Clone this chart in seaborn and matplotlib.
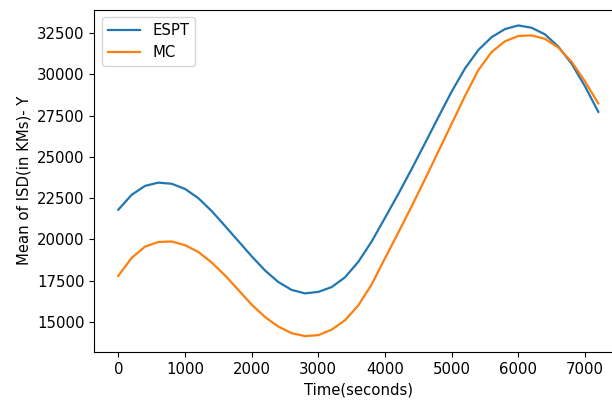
import matplotlib
matplotlib.use("Agg")
import matplotlib.pyplot as plt
import seaborn as sns
import pandas as pd

# Sampling times (seconds)
time_s = [0, 200, 400, 600, 800, 1000, 1200, 1400, 1600, 1800, 2000, 2200,
          2400, 2600, 2800, 3000, 3200, 3400, 3600, 3800, 4000, 4200, 4400,
          4600, 4800, 5000, 5200, 5400, 5600, 5800, 6000, 6200, 6400, 6600,
          6800, 7000, 7200]

# Mean inter-satellite distance (km) for each method
espt = [21800, 22700, 23240, 23438, 23371, 23060, 22500, 21720, 20820, 19900,
        18980, 18120, 17420, 16940, 16730, 16820, 17110, 17700, 18640, 19870,
        21300, 22750, 24260, 25820, 27395, 28950, 30350, 31470, 32250, 32740,
        32960, 32820, 32420, 31680, 30640, 29280, 27727]
mc = [17788, 18880, 19560, 19842, 19874, 19650, 19240, 18600, 17820, 16940,
      16050, 15300, 14720, 14320, 14142, 14200, 14530, 15100, 16000, 17270,
      18850, 20410, 22000, 23640, 25320, 27000, 28680, 30250, 31350, 32000,
      32320, 32360, 32150, 31620, 30760, 29570, 28236]

methods = ["ESPT", "MC"]

df = pd.DataFrame({
    "Time(seconds)": time_s * 2,
    "Mean of ISD(in KMs)- Y": espt + mc,
    "method": [methods[0]] * len(time_s) + [methods[1]] * len(time_s),
})

plt.rcParams["font.family"] = ["DejaVu Sans"]
plt.rcParams["font.size"] = 10.7

fig = plt.figure(figsize=(6.12, 4.03), dpi=100)
ax = fig.add_axes([0.1541, 0.127, 0.8627, 0.8494])

sns.lineplot(data=df, x="Time(seconds)", y="Mean of ISD(in KMs)- Y",
             hue="method", hue_order=methods,
             palette=["#1f77b4", "#ff7f0e"], linewidth=1.6, ax=ax)

ax.set_xlim(-360, 7560)
ax.set_ylim(13190, 33925)
ax.set_xticks([0, 1000, 2000, 3000, 4000, 5000, 6000, 7000])
ax.set_yticks([15000, 17500, 20000, 22500, 25000, 27500, 30000, 32500])
ax.legend(loc="upper left", handlelength=2.2)

fig.savefig("out.png", dpi=100)
